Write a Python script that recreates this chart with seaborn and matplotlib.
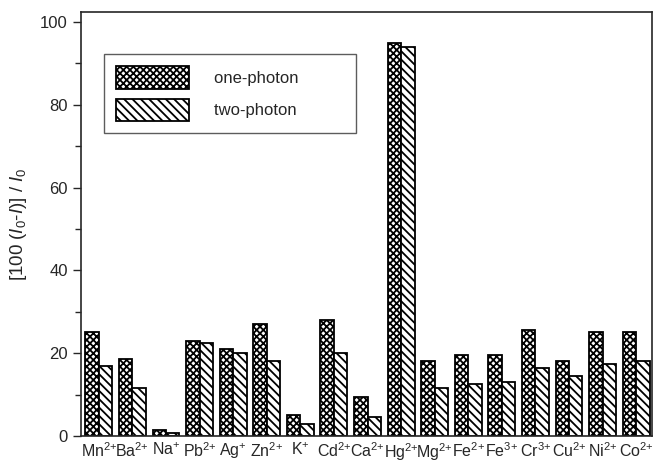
import matplotlib
matplotlib.use("Agg")
import matplotlib.pyplot as plt
import seaborn as sns
import pandas as pd
from matplotlib.ticker import MultipleLocator

ions = ["Mn$^{2{+}}$", "Ba$^{2{+}}$", "Na$^{{+}}$", "Pb$^{2{+}}$", "Ag$^{{+}}$", "Zn$^{2{+}}$",
        "K$^{{+}}$", "Cd$^{2{+}}$", "Ca$^{2{+}}$", "Hg$^{2{+}}$", "Mg$^{2{+}}$", "Fe$^{2{+}}$",
        "Fe$^{3{+}}$", "Cr$^{3{+}}$", "Cu$^{2{+}}$", "Ni$^{2{+}}$", "Co$^{2{+}}$"]
one_photon = [25, 18.5, 1.5, 23, 21, 27, 5, 28, 9.5, 95, 18, 19.5, 19.5, 25.5, 18, 25, 25]
two_photon = [17, 11.5, 0.7, 22.5, 20, 18, 3, 20, 4.5, 94, 11.5, 12.5, 13, 16.5, 14.5, 17.5, 18]
series = ["one-photon", "two-photon"]

df = pd.DataFrame({
    "ion": ions * 2,
    "value": one_photon + two_photon,
    "series": [series[0]] * len(ions) + [series[1]] * len(ions),
})

sns.set_style("ticks")
plt.rcParams["font.family"] = ["Liberation Sans", "DejaVu Sans"]
plt.rcParams["mathtext.fontset"] = "custom"
plt.rcParams["mathtext.rm"] = "Liberation Sans"
plt.rcParams["mathtext.it"] = "Liberation Sans:italic"
plt.rcParams["hatch.linewidth"] = 1.3

fig = plt.figure(figsize=(6.57, 4.62), dpi=100)
ax = fig.add_axes([81/657, 1 - 436/462, 571/657, 424/462])

sns.barplot(data=df, x="ion", y="value", hue="series", hue_order=series,
            palette=["white", "white"], edgecolor="black", linewidth=1.3,
            width=0.8, ax=ax, legend=True)

hatches = ["xxxxx", "\\\\\\\\"]
for cont, h in zip(ax.containers, hatches):
    for p in cont:
        p.set_hatch(h)
        p.set_edgecolor("black")

ax.set_xlim(-0.53, 16.47)
ax.set_ylim(0, 102.4)
ax.yaxis.set_major_locator(MultipleLocator(20))
ax.yaxis.set_minor_locator(MultipleLocator(10))
ax.tick_params(axis="y", which="major", length=6, width=1, labelsize=12, direction="out")
ax.tick_params(axis="y", which="minor", length=4, width=1, direction="out")
ax.tick_params(axis="x", length=0, labelsize=11.5, pad=4)
ax.set_xlabel("")
ax.set_ylabel("[100 ($I_0$-$I$)] / $I_0$", fontsize=13.5, labelpad=8)
for s in ax.spines.values():
    s.set_visible(True)
    s.set_linewidth(1.2)

handles, labels = ax.get_legend_handles_labels()
for hd, h in zip(handles, hatches):
    hd.set_hatch(h)
    hd.set_edgecolor("black")
leg = ax.legend(handles, labels, loc="upper left", bbox_to_anchor=(0.04, 0.9),
                fontsize=12, frameon=True, fancybox=False, edgecolor="#333333",
                handlelength=4.4, handleheight=1.7, labelspacing=0.6,
                handletextpad=1.5, borderpad=0.7, borderaxespad=0)
leg.get_frame().set_linewidth(1.0)
for t in leg.get_texts():
    t.set_text(t.get_text() + "          ")

fig.savefig("out.png", dpi=100)
